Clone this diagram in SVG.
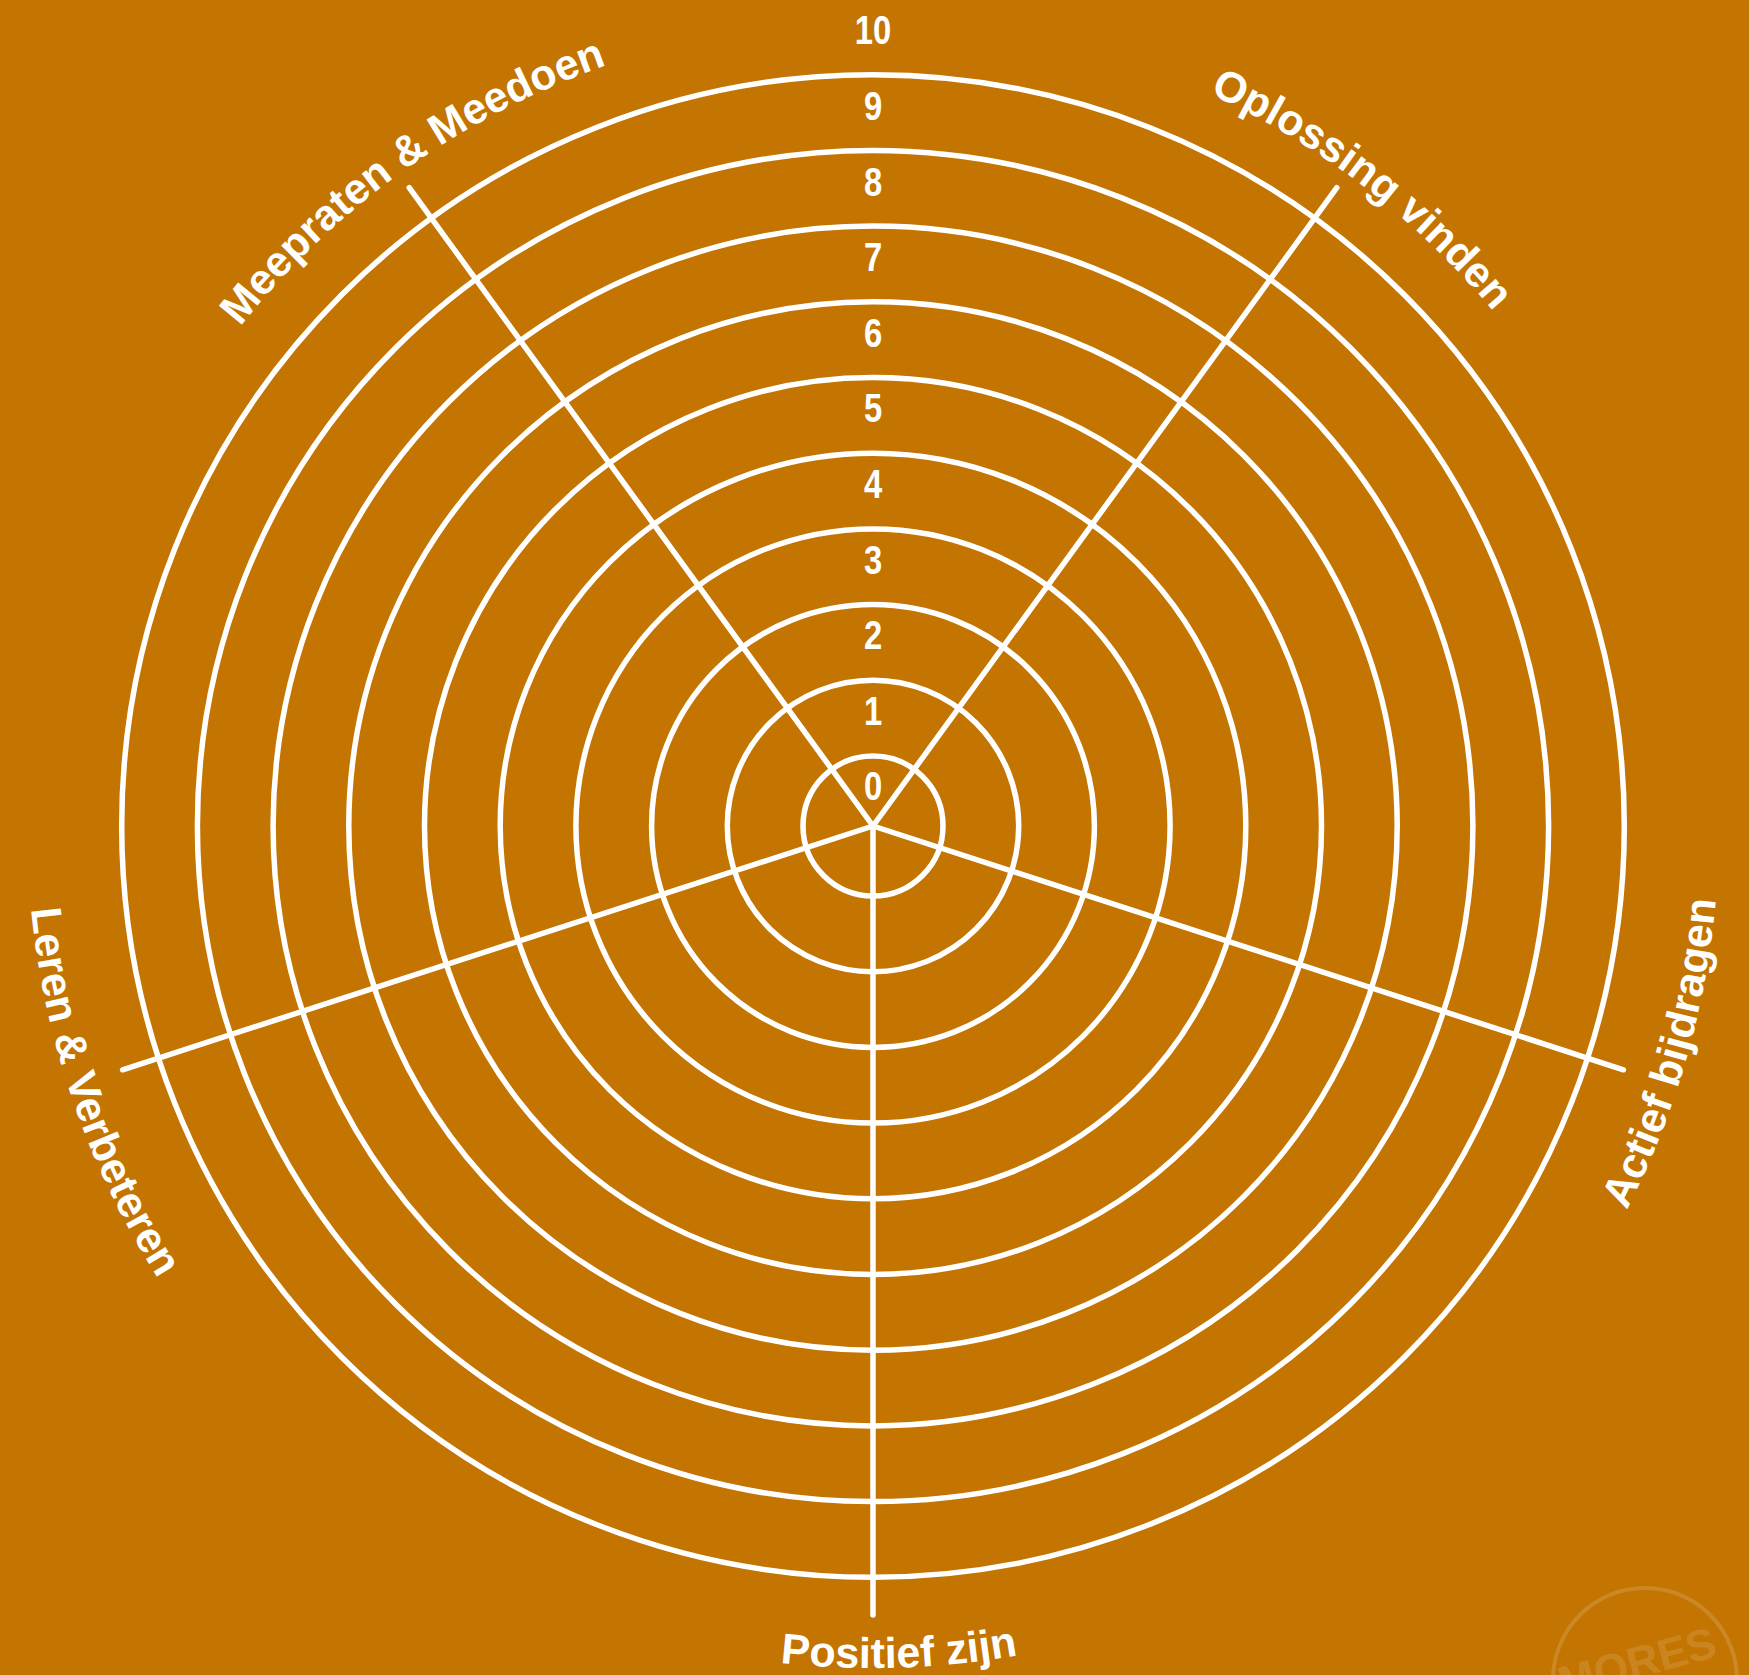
<svg xmlns="http://www.w3.org/2000/svg" xmlns:xlink="http://www.w3.org/1999/xlink" width="1749" height="1675" viewBox="0 0 1749 1675">
<style>
.ring{fill:none;stroke:#fff;stroke-width:5.5}
.spoke{stroke:#fff;stroke-width:5.5;stroke-linecap:round}
.num{font-family:"Liberation Sans",Arial,sans-serif;font-size:41px;font-weight:bold;fill:#fff;text-anchor:middle}
.lbl{font-family:"Liberation Sans",Arial,sans-serif;font-size:43px;font-weight:bold;fill:#fff}
.wm{fill:none;stroke:#fff;stroke-opacity:0.15;stroke-width:4}
</style>
<defs>
<path id="pTL" d="M 139.5 491.8 A 806 806 0 0 1 795.8 23.7"/>
<path id="pTR" d="M 978.2 26.9 A 806 806 0 0 1 1617.7 517.5"/>
<path id="pR" d="M 1460.7 1434.5 A 846 846 0 0 0 1693.9 621.3"/>
<path id="pL" d="M 42.6 664.6 A 846 846 0 0 0 317.9 1464.5"/>
<path id="pB" d="M 475.1 1568.1 A 842 842 0 0 0 1316.7 1541.6"/>
</defs>
<rect width="1749" height="1675" fill="#C47400"/>
<g id="watermark">
<circle class="wm" cx="1645" cy="1680" r="92"/>
<text x="1641" y="1677" transform="rotate(-15 1641 1677)" font-family="Liberation Sans,Arial,sans-serif" font-size="44" font-weight="bold" fill="#fff" fill-opacity="0.15" text-anchor="middle">MORES</text>
</g>
<g id="rings">
<circle class="ring" cx="873" cy="826" r="70"/>
<circle class="ring" cx="873" cy="826" r="145.7"/>
<circle class="ring" cx="873" cy="826" r="221.4"/>
<circle class="ring" cx="873" cy="826" r="297.1"/>
<circle class="ring" cx="873" cy="826" r="372.8"/>
<circle class="ring" cx="873" cy="826" r="448.5"/>
<circle class="ring" cx="873" cy="826" r="524.2"/>
<circle class="ring" cx="873" cy="826" r="599.9"/>
<circle class="ring" cx="873" cy="826" r="675.6"/>
<circle class="ring" cx="873" cy="826" r="751.3"/>
</g>
<g id="connectors">
<line class="spoke" x1="873" y1="826" x2="409.2" y2="187.7"/>
<line class="spoke" x1="873" y1="826" x2="1336.8" y2="187.7"/>
<line class="spoke" x1="873" y1="826" x2="1623.4" y2="1069.8"/>
<line class="spoke" x1="873" y1="826" x2="122.6" y2="1069.8"/>
<line class="spoke" x1="873" y1="826" x2="873" y2="1615"/>
</g>
<g id="scale" transform="translate(873 0) scale(0.8 1)">
<text class="num" x="0" y="800.5">0</text>
<text class="num" x="0" y="724.9">1</text>
<text class="num" x="0" y="649.3">2</text>
<text class="num" x="0" y="573.7">3</text>
<text class="num" x="0" y="498.1">4</text>
<text class="num" x="0" y="422.5">5</text>
<text class="num" x="0" y="346.9">6</text>
<text class="num" x="0" y="271.3">7</text>
<text class="num" x="0" y="195.7">8</text>
<text class="num" x="0" y="120.1">9</text>
<text class="num" x="0" y="44.5">10</text>
</g>
<g id="label-meepraten"><text class="lbl" text-anchor="middle"><textPath xlink:href="#pTL" href="#pTL" startOffset="50%">Meepraten &amp; Meedoen</textPath></text></g>
<g id="label-oplossing"><text class="lbl" text-anchor="middle"><textPath xlink:href="#pTR" href="#pTR" startOffset="50%">Oplossing vinden</textPath></text></g>
<g id="label-actief"><text class="lbl" text-anchor="middle"><textPath xlink:href="#pR" href="#pR" startOffset="50%">Actief bijdragen</textPath></text></g>
<g id="label-leren"><text class="lbl" text-anchor="middle"><textPath xlink:href="#pL" href="#pL" startOffset="50%">Leren &amp; Verbeteren</textPath></text></g>
<g id="label-positief"><text class="lbl" text-anchor="middle"><textPath xlink:href="#pB" href="#pB" startOffset="50%">Positief zijn</textPath></text></g>
</svg>
